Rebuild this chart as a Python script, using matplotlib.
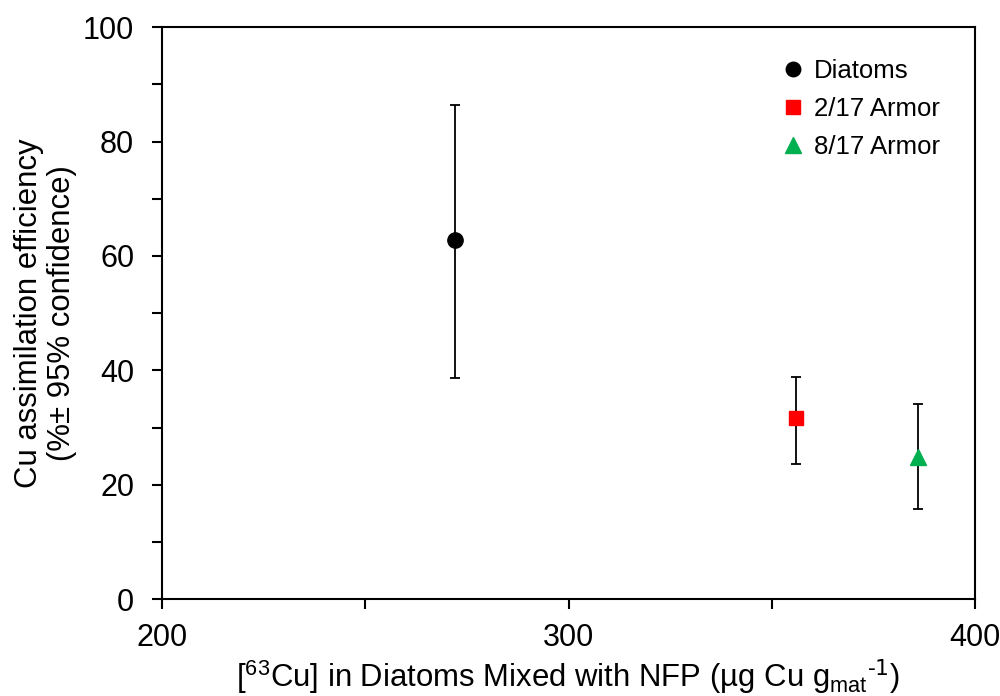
import matplotlib
matplotlib.use('Agg')
import matplotlib.pyplot as plt
from matplotlib.ticker import MultipleLocator

plt.rcParams['font.family'] = ['Liberation Sans', 'DejaVu Sans']
plt.rcParams['mathtext.default'] = 'regular'

# data
labels = ['Diatoms', '2/17 Armor', '8/17 Armor']
cu_conc = [272, 356, 386]
efficiency = [62.8, 31.6, 24.8]
ci_low = [38.6, 23.6, 15.7]
ci_high = [86.4, 38.8, 34.1]
markers = ['o', 's', '^']
colors = ['black', '#ff0000', '#00b050']
sizes = [11, 10.5, 12]

fig = plt.figure(figsize=(10, 6.96), dpi=100)
ax = fig.add_axes([0.162, 0.139, 0.813, 0.822])

for i in range(len(labels)):
    yerr = [[efficiency[i] - ci_low[i]], [ci_high[i] - efficiency[i]]]
    ax.errorbar(cu_conc[i], efficiency[i], yerr=yerr, fmt=markers[i], color=colors[i],
                ecolor='black', elinewidth=1.3, capsize=3.5, capthick=1.3,
                markersize=sizes[i], label=labels[i], zorder=3)

ax.set_xlim(200, 400)
ax.set_ylim(0, 100)
ax.xaxis.set_major_locator(MultipleLocator(100))
ax.xaxis.set_minor_locator(MultipleLocator(50))
ax.yaxis.set_major_locator(MultipleLocator(20))
ax.yaxis.set_minor_locator(MultipleLocator(10))
ax.tick_params(which='both', direction='out', length=7, width=1.5, labelsize=22)
ax.tick_params(axis='x', pad=10)
ax.tick_params(axis='y', pad=13)
for s in ax.spines.values():
    s.set_linewidth(1.5)

ax.set_xlabel(r'[$^{63}$Cu] in Diatoms Mixed with NFP (µg Cu g$_{mat}$$^{\text{-1}}$)',
              fontsize=22.4, labelpad=3)
ax.set_ylabel('Cu assimilation efficiency\n(%± 95% confidence)', fontsize=22.4, labelpad=4,
              linespacing=1.15)

handles, labs = ax.get_legend_handles_labels()
handles = [h[0] for h in handles]
ax.legend(handles, labs, loc='upper right', frameon=False, fontsize=18.5, handletextpad=0.2,
          markerscale=0.95, bbox_to_anchor=(0.985, 0.985), labelspacing=0.55, handlelength=1.2)

fig.savefig('out.png', dpi=100)
